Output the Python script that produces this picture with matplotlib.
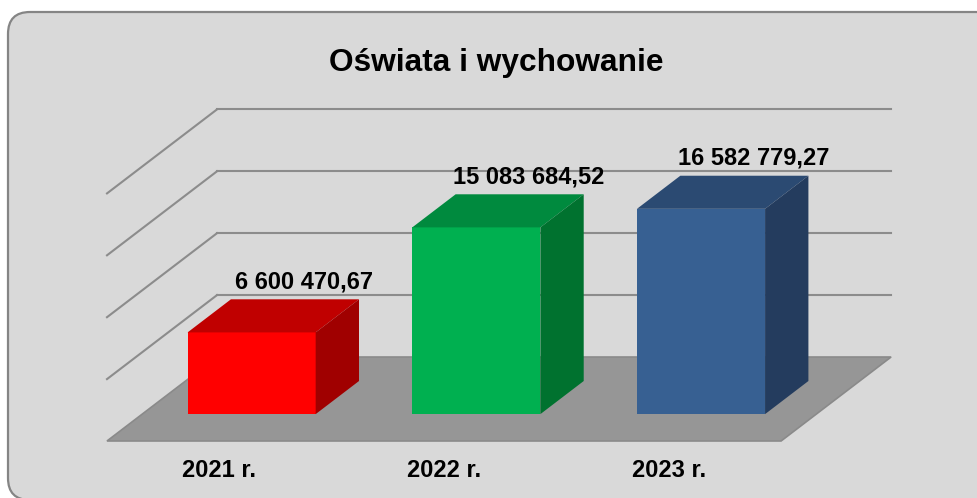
import matplotlib
matplotlib.use("Agg")
import matplotlib.pyplot as plt
from matplotlib.patches import FancyBboxPatch, Polygon
from matplotlib.transforms import IdentityTransform

plt.rcParams['font.family'] = ['Liberation Sans', 'DejaVu Sans']

# data
categories = ["2021 r.", "2022 r.", "2023 r."]
values = [6600470.67, 15083684.52, 16582779.27]
labels = ["6 600 470,67", "15 083 684,52", "16 582 779,27"]
title = "Oświata i wychowanie"
grid_ticks = [5e6, 10e6, 15e6, 20e6]

front_colors = ["#FF0000", "#00B050", "#376092"]
top_colors = ["#C00000", "#008A3E", "#2B4A72"]
side_colors = ["#A00000", "#00722F", "#243C5E"]

W, H = 978, 498
fig = plt.figure(figsize=(W / 100, H / 100), dpi=100)
fig.patch.set_facecolor("white")

# rounded card behind the chart, in pixels
card = FancyBboxPatch((8, -2), 990, H - 12 + 2,
                      boxstyle="round,pad=0,rounding_size=22",
                      transform=IdentityTransform(), facecolor="#D9D9D9",
                      edgecolor="#858585", linewidth=1.6, zorder=-5)
fig.patches.append(card)

# oblique projection: x in category units, y in value units
px_cat = 224.7
px_val = 12.38 / 1e6
x0_px, y0_px = 107, 441
ax = fig.add_axes([0, 0, 1, 1])
ax.set_xlim(-x0_px / px_cat, (W - x0_px) / px_cat)
ax.set_ylim((y0_px - H) / px_val, y0_px / px_val)
ax.axis("off")
ax.patch.set_alpha(0)

n = len(categories)
DX = 110 / px_cat           # depth shift (categories)
DY = 84 / px_val            # depth shift (values)
d0, d1 = 0.32, 0.714        # bar front / back depth
bw = 0.57                   # bar width
nudge = -0.013              # bars sit a touch left of the projected depth

# floor
floor = Polygon([(0, 0), (n, 0), (n + DX, DY), (DX, DY)], closed=True,
                facecolor="#969696", edgecolor="#8A8A8A", lw=1.2, zorder=1)
ax.add_patch(floor)

# back wall and side wall gridlines
for v in grid_ticks:
    ax.plot([DX, n + DX], [v + DY, v + DY], color="#8C8C8C", lw=1.5, zorder=1)
    ax.plot([0, DX], [v, v + DY], color="#8C8C8C", lw=1.5, zorder=1)

# bars
dd = d1 - d0
for i, v in enumerate(values):
    xc = i + 0.5 + d0 * DX + nudge
    yb = d0 * DY
    ax.bar(xc, v, width=bw, bottom=yb, color=front_colors[i], zorder=3)
    xl, xr = xc - bw / 2, xc + bw / 2
    top = Polygon([(xl, yb + v), (xr, yb + v), (xr + dd * DX, yb + v + dd * DY),
                   (xl + dd * DX, yb + v + dd * DY)], closed=True,
                  facecolor=top_colors[i], edgecolor="none", zorder=3)
    side = Polygon([(xr, yb), (xr + dd * DX, yb + dd * DY),
                    (xr + dd * DX, yb + v + dd * DY), (xr, yb + v)], closed=True,
                   facecolor=side_colors[i], edgecolor="none", zorder=3)
    ax.add_patch(top)
    ax.add_patch(side)
    ax.annotate(labels[i], (i + 0.5 + d1 * DX, v + d1 * DY),
                xytext=(6, 11), textcoords="offset pixels",
                ha="center", va="baseline", fontsize=17, fontweight="bold",
                color="black", zorder=5)

# category labels along the front edge
for i, c in enumerate(categories):
    ax.text(i + 0.5, (y0_px - 477) / px_val, c, ha="center", va="baseline",
            fontsize=17, fontweight="bold", color="black")

fig.text(496 / W, 1 - 71 / H, title, ha="center", va="baseline",
         fontsize=22.8, fontweight="bold", color="black")

fig.savefig("out.png", dpi=100, facecolor=fig.get_facecolor())
